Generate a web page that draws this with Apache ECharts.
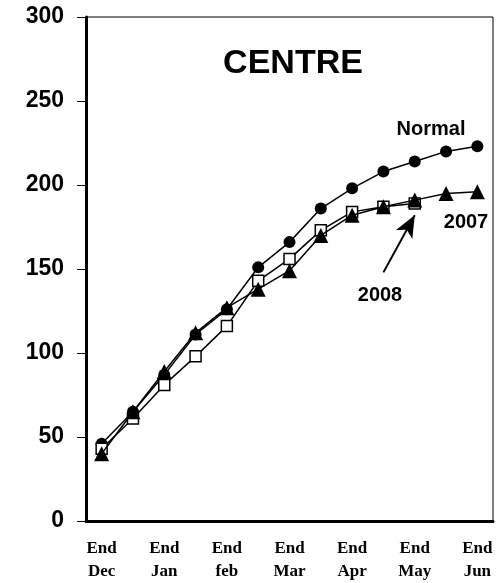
<!DOCTYPE html>
<html>
<head>
<meta charset="utf-8">
<script src="https://cdn.jsdelivr.net/npm/echarts@6/dist/echarts.min.js"></script>
<style>html,body{margin:0;padding:0;background:#fff}#c{width:499px;height:583px}</style>
</head>
<body>
<div id="c"></div>
<script>
const months = ['End\nDec', 'End\nJan', 'End\nfeb', 'End\nMar', 'End\nApr', 'End\nMay', 'End\nJun'];
const normal = [46, 65, 87, 111, 126, 151, 166, 186, 198, 208, 214, 220, 223];
const y2007 = [40, 65, 89, 112, 127, 138, 149, 170, 182, 187, 191, 195, 196];
const y2008 = [43, 61, 81, 98, 116, 143, 156, 173, 184, 187, 189, null, null];
const yTicks = [0, 50, 100, 150, 200, 250, 300];

// categories: month ends with half-month points between them
const categories = [];
months.forEach((m, i) => { categories.push(m); if (i < months.length - 1) categories.push(''); });

const chart = echarts.init(document.getElementById('c'), null, {renderer: 'canvas'});
const lineStyle = {color: '#000', width: 1.5};
chart.setOption({
  animation: false,
  backgroundColor: '#fff',
  grid: {left: 86, right: 6, top: 17, bottom: 62, show: true, borderColor: '#000', borderWidth: 1, backgroundColor: 'transparent'},
  xAxis: {
    type: 'category', data: categories, boundaryGap: true,
    axisLine: {lineStyle: {color: '#000', width: 3}},
    axisTick: {show: false},
    axisLabel: {interval: 0, color: '#000', fontFamily: 'Liberation Serif', fontWeight: 'bold', fontSize: 17, lineHeight: 23, margin: 16}
  },
  yAxis: {
    type: 'value', min: yTicks[0], max: yTicks[yTicks.length - 1], interval: 50,
    splitLine: {show: false},
    axisLine: {show: true, lineStyle: {color: '#000', width: 3}},
    axisTick: {show: true, length: 9, lineStyle: {color: '#000', width: 1}},
    axisLabel: {color: '#000', fontFamily: 'Liberation Sans', fontWeight: 'bold', fontSize: 23, margin: 22}
  },
  series: [
    {name: 'Normal', type: 'line', data: normal, symbol: 'circle', symbolSize: 12,
      itemStyle: {color: '#000'}, lineStyle: lineStyle, z: 2},
    {name: '2008', type: 'line', data: y2008, symbol: 'rect', symbolSize: 11,
      itemStyle: {color: '#fff', borderColor: '#000', borderWidth: 1.5}, lineStyle: lineStyle, z: 3,
      markLine: {
        silent: true, animation: false,
        symbol: ['none', 'arrow'], symbolSize: [14, 22],
        lineStyle: {color: '#000', width: 2, type: 'solid'},
        label: {show: false},
        data: [[{coord: [9, 148]}, {coord: [10, 182]}]]
      }},
    {name: '2007', type: 'line', data: y2007, symbol: 'triangle', symbolSize: 15,
      itemStyle: {color: '#000'}, lineStyle: lineStyle, z: 4}
  ],
  graphic: [
    {type: 'text', style: {text: 'CENTRE', x: 293, y: 64, align: 'center', verticalAlign: 'middle', fontFamily: 'Liberation Sans', fontWeight: 'bold', fontSize: 34, fill: '#000'}},
    {type: 'text', style: {text: 'Normal', x: 431, y: 129, align: 'center', verticalAlign: 'middle', fontFamily: 'Liberation Sans', fontWeight: 'bold', fontSize: 20, fill: '#000'}},
    {type: 'text', style: {text: '2007', x: 466, y: 222, align: 'center', verticalAlign: 'middle', fontFamily: 'Liberation Sans', fontWeight: 'bold', fontSize: 20, fill: '#000'}},
    {type: 'text', style: {text: '2008', x: 380, y: 295, align: 'center', verticalAlign: 'middle', fontFamily: 'Liberation Sans', fontWeight: 'bold', fontSize: 20, fill: '#000'}}
  ]
});
</script>
</body>
</html>
